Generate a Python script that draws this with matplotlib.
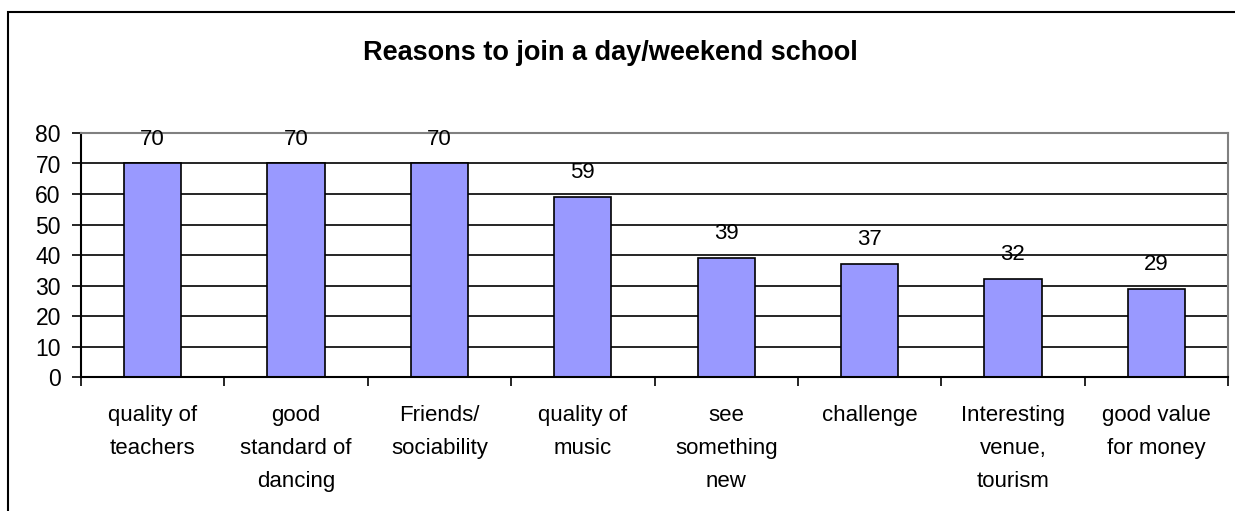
import matplotlib.pyplot as plt
from matplotlib.patches import Rectangle
import numpy as np

plt.rcParams['font.family'] = ['Liberation Sans', 'DejaVu Sans']

categories = ["quality of\nteachers", "good\nstandard of\ndancing", "Friends/\nsociability",
              "quality of\nmusic", "see\nsomething\nnew", "challenge",
              "Interesting\nvenue,\ntourism", "good value\nfor money"]
values = [70, 70, 70, 59, 39, 37, 32, 29]
yticks = [0, 10, 20, 30, 40, 50, 60, 70, 80]

fig = plt.figure(figsize=(12.35, 5.11), dpi=100)
W, H = 1235, 511

# outer chart frame (clipped on right and bottom like the source)
fig.patches.append(Rectangle((8 / W, 1 - 520 / H), 1240 / W, 508 / H, transform=fig.transFigure,
                             fill=False, edgecolor='black', linewidth=1.5, clip_on=False))

ax = fig.add_axes([81 / W, 1 - 377 / H, (1228 - 81) / W, (377 - 133) / H])

x = np.arange(len(values))
ax.set_axisbelow(True)
ax.yaxis.grid(True, color='black', linewidth=1.2)
ax.bar(x, values, width=0.4, color='#9999FF', edgecolor='black', linewidth=1.2, zorder=2)

fs = 16
for xi, v in zip(x, values):
    ax.annotate(str(v), (xi, v), xytext=(0, 19), textcoords='offset pixels',
                ha='center', va='baseline', fontsize=fs)

ax.set_xlim(-0.5, len(values) - 0.5)
ax.set_ylim(0, 80)
ax.set_yticks(yticks)
ax.tick_params(axis='y', length=6.5, width=1.2, direction='out', pad=8, labelsize=16.5)

ax.set_xticks(x)
ax.set_xticklabels(categories, fontsize=fs, linespacing=1.75, va='top')
ax.set_xticks(np.arange(-0.5, len(values)), minor=True)
ax.tick_params(axis='x', which='major', length=0, pad=20)
ax.tick_params(axis='x', which='minor', length=6.5, width=1.2, direction='out')

for s in ['left', 'bottom']:
    ax.spines[s].set_color('black')
    ax.spines[s].set_linewidth(1.5)
for s in ['top', 'right']:
    ax.spines[s].set_color('#808080')
    ax.spines[s].set_linewidth(1.5)

fig.text(610 / W, 1 - 53 / H, "Reasons to join a day/weekend school",
         ha='center', va='center', fontsize=19.5, fontweight='bold')

fig.savefig('out.png', dpi=100)
